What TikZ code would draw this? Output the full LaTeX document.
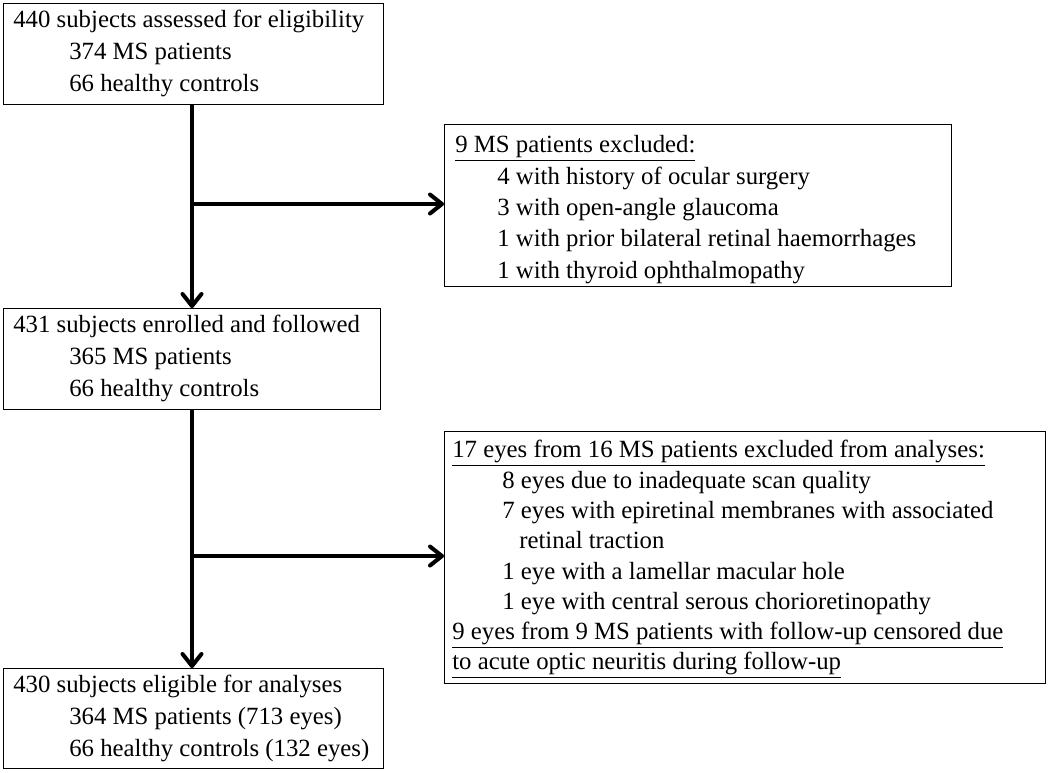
\documentclass[tikz,border=0pt]{standalone}
\usepackage{fontspec}
\setmainfont{Liberation Serif}
\usetikzlibrary{arrows.meta}
\begin{document}
\begin{tikzpicture}[x=0.02cm,y=-0.02cm,
  box/.style={draw, line width=0.8pt, rectangle, inner sep=0pt, anchor=north west},
  txt/.style={inner sep=0pt, align=left, anchor=north west},
  flow/.style={line width=2.3pt},
  arr/.style={flow, -{Straight Barb[length=2.4mm,width=3.8mm,round]}}
]
\useasboundingbox (0,0) rectangle (1050,772);

% boxes
\node[box, minimum width=7.6cm,  minimum height=2.02cm] (b1) at (3,3) {};
\node[box, minimum width=10.14cm, minimum height=3.24cm] (b2) at (444,124) {};
\node[box, minimum width=7.54cm, minimum height=2.02cm] (b3) at (3,308) {};
\node[box, minimum width=12.02cm, minimum height=5.04cm] (b4) at (444,431) {};
\node[box, minimum width=7.6cm,  minimum height=2.0cm] (b5) at (3,668) {};

% texts
\node[txt, font=\fontsize{14.1}{18.2}\selectfont] (t1) at (13,10)
  {440 subjects assessed for eligibility\\
   \hspace*{1.12cm}374 MS patients\\
   \hspace*{1.12cm}66 healthy controls};

\node[txt, font=\fontsize{14.1}{17.9}\selectfont] (t2) at (455,135)
  {\underline{9 MS patients excluded:}\\
   \hspace*{0.84cm}4 with history of ocular surgery\\
   \hspace*{0.84cm}3 with open-angle glaucoma\\
   \hspace*{0.84cm}1 with prior bilateral retinal haemorrhages\\
   \hspace*{0.84cm}1 with thyroid ophthalmopathy};

\node[txt, font=\fontsize{14.1}{18.2}\selectfont] (t3) at (13,315)
  {431 subjects enrolled and followed\\
   \hspace*{1.12cm}365 MS patients\\
   \hspace*{1.12cm}66 healthy controls};

\node[txt, font=\fontsize{14.1}{17.25}\selectfont] (t4) at (452,440)
  {\underline{17 eyes from 16 MS patients excluded from analyses:}\\
   \hspace*{1.0cm}8 eyes due to inadequate scan quality\\
   \hspace*{1.0cm}7 eyes with epiretinal membranes with associated\\
   \hspace*{1.34cm}retinal traction\\
   \hspace*{1.0cm}1 eye with a lamellar macular hole\\
   \hspace*{1.0cm}1 eye with central serous chorioretinopathy\\
   \underline{9 eyes from 9 MS patients with follow-up censored due}\\
   \underline{to acute optic neuritis during follow-up}};

\node[txt, font=\fontsize{14.1}{18.2}\selectfont] (t5) at (13,675)
  {430 subjects eligible for analyses\\
   \hspace*{1.12cm}364 MS patients (713 eyes)\\
   \hspace*{1.12cm}66 healthy controls (132 eyes)};

% connectors
\coordinate (j1) at (192,204);
\coordinate (j2) at (192,556);

\draw[arr] (b1.south -| j1) -- (b3.north -| j1);
\draw[arr] (j1) -- (j1 -| b2.west);
\draw[arr] (b3.south -| j2) -- (b5.north -| j2);
\draw[arr] (j2) -- (j2 -| b4.west);
\end{tikzpicture}
\end{document}
